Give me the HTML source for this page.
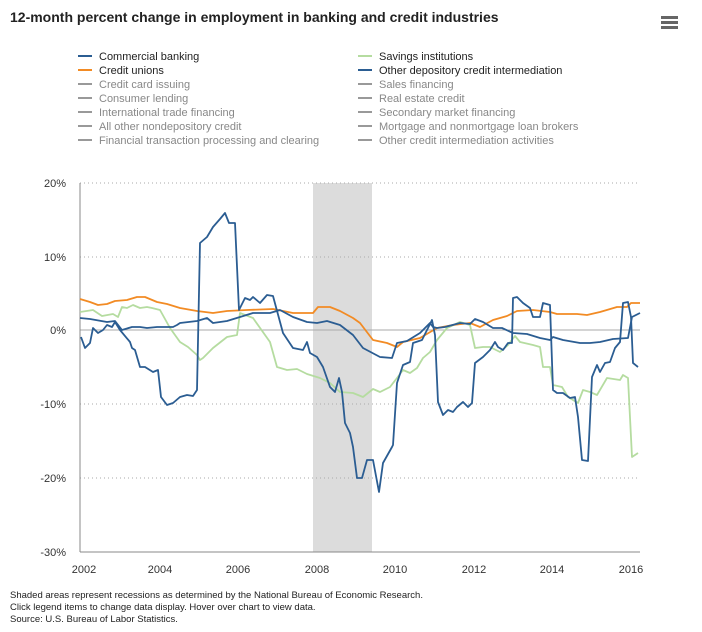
<!DOCTYPE html>
<html><head><meta charset="utf-8"><style>
body{margin:0;background:#fff;font-family:"Liberation Sans",sans-serif;}
.t{position:absolute;left:10px;top:9px;font-size:14px;font-weight:bold;color:#222;}
</style></head><body>
<div style="position:relative;width:702px;height:632px;overflow:hidden">
<div class="t">12-month percent change in employment in banking and credit industries</div>
<svg width="702" height="632" style="position:absolute;left:0;top:0" font-family="Liberation Sans, sans-serif">
<g fill="#666"><rect x="661" y="16" width="17" height="3"/><rect x="661" y="21" width="17" height="3"/><rect x="661" y="26" width="17" height="3"/></g>
<g font-size="11">
<g stroke-width="2"><line x1="78" y1="56" x2="92" y2="56" stroke="#2b5d92"/><line x1="78" y1="70" x2="92" y2="70" stroke="#f28b24"/><line x1="358" y1="56" x2="372" y2="56" stroke="#b5dca0"/><line x1="358" y1="70" x2="372" y2="70" stroke="#2b5d92"/>
<g stroke="#999"><line x1="78" y1="84" x2="92" y2="84"/><line x1="78" y1="98" x2="92" y2="98"/><line x1="78" y1="112" x2="92" y2="112"/><line x1="78" y1="126" x2="92" y2="126"/><line x1="78" y1="140" x2="92" y2="140"/><line x1="358" y1="84" x2="372" y2="84"/><line x1="358" y1="98" x2="372" y2="98"/><line x1="358" y1="112" x2="372" y2="112"/><line x1="358" y1="126" x2="372" y2="126"/><line x1="358" y1="140" x2="372" y2="140"/></g></g>
<g fill="#222"><text x="99" y="60">Commercial banking</text><text x="99" y="74">Credit unions</text><text x="379" y="60">Savings institutions</text><text x="379" y="74">Other depository credit intermediation</text></g>
<g fill="#888"><text x="99" y="88">Credit card issuing</text><text x="99" y="102">Consumer lending</text><text x="99" y="116">International trade financing</text><text x="99" y="130">All other nondepository credit</text><text x="99" y="144">Financial transaction processing and clearing</text>
<text x="379" y="88">Sales financing</text><text x="379" y="102">Real estate credit</text><text x="379" y="116">Secondary market financing</text><text x="379" y="130">Mortgage and nonmortgage loan brokers</text><text x="379" y="144">Other credit intermediation activities</text></g>
</g>
<rect x="313" y="183" width="59" height="369" fill="#dcdcdc"/>
<g stroke="#aaa" stroke-dasharray="1,3"><line x1="80" y1="183" x2="640" y2="183"/><line x1="80" y1="257" x2="640" y2="257"/><line x1="80" y1="404" x2="640" y2="404"/><line x1="80" y1="478" x2="640" y2="478"/></g>
<line x1="80" y1="330" x2="640" y2="330" stroke="#aaa"/>
<line x1="80" y1="183" x2="80" y2="552" stroke="#888"/>
<line x1="80" y1="552" x2="640" y2="552" stroke="#888"/>
<g font-size="11" fill="#333" text-anchor="end"><text x="66" y="187">20%</text><text x="66" y="261">10%</text><text x="66" y="334">0%</text><text x="66" y="408">-10%</text><text x="66" y="482">-20%</text><text x="66" y="556">-30%</text></g>
<g font-size="11" fill="#333" text-anchor="middle"><text x="84" y="573">2002</text><text x="160" y="573">2004</text><text x="238" y="573">2006</text><text x="317" y="573">2008</text><text x="395" y="573">2010</text><text x="474" y="573">2012</text><text x="552" y="573">2014</text><text x="631" y="573">2016</text></g>
<g fill="none" stroke-width="1.8" stroke-linejoin="round">
<polyline stroke="#b5dca0" points="80,312 93,310 102,316 113,314 118,317 122,307 127,308 133,305 140,308 147,307 152,308 160,310 170,328 180,342 188,347 197,355 200,360 203,358 213,348 227,337 237,335 240,313 253,318 270,342 277,367 287,370 297,369 307,374 320,378 330,383 340,392 353,393 363,397 373,389 380,392 390,387 397,378 403,370 410,373 417,368 423,358 430,352 437,340 447,328 460,322 470,325 475,348 483,347 490,347 500,352 508,345 515,336 520,342 533,345 540,347 543,367 550,367 553,385 562,387 568,397 578,403 583,390 590,392 597,395 607,378 620,380 623,375 628,378 632,457 638,453"/>
<polyline stroke="#f28b24" points="80,299 90,302 98,305 107,304 115,301 127,300 137,297 145,297 157,302 167,304 180,308 197,311 213,313 227,311 247,310 273,309 293,313 313,313 318,307 330,307 340,311 353,318 360,323 373,340 387,343 397,347 403,342 420,338 437,328 453,325 470,323 480,327 493,320 507,316 517,311 533,310 550,312 557,314 577,314 587,315 600,312 617,307 627,307 631,303 640,303"/>
<polyline stroke="#2b5d92" points="80,318 90,319 107,322 115,321 122,330 132,327 140,327 147,328 157,327 173,327 177,325 180,323 197,321 207,318 213,323 227,321 240,317 253,313 270,313 280,310 293,317 307,322 317,323 327,321 340,325 353,335 363,348 380,357 392,358 397,343 407,341 420,333 430,323 433,327 437,328 445,327 460,323 470,324 475,319 483,322 493,328 502,328 513,333 527,334 540,338 550,340 553,337 563,340 580,343 590,343 600,342 613,339 628,338 632,317 640,313"/>
<polyline stroke="#2b5d92" points="81,337 85,348 90,343 93,328 98,333 103,330 107,325 112,327 115,322 120,330 130,342 132,348 135,350 140,367 145,367 153,372 158,370 161,397 167,405 173,403 180,397 187,395 193,396 197,390 200,243 207,237 213,227 220,219 225,213 229,223 235,223 239,310 245,298 250,300 253,297 260,303 267,295 273,296 283,333 293,348 303,350 307,342 310,353 317,357 323,367 330,387 335,392 339,378 342,392 345,423 350,433 353,447 357,478 362,478 367,460 373,460 379,492 383,463 392,447 393,445 397,383 403,365 410,362 413,343 422,340 427,330 432,320 435,335 438,402 443,415 448,410 453,412 457,407 463,402 468,407 472,403 475,363 483,357 490,350 495,342 498,347 503,350 508,343 512,343 513,298 517,297 523,303 530,308 533,317 540,317 543,303 550,305 553,390 557,393 563,393 570,398 575,397 578,417 582,460 588,461 592,377 597,365 600,372 605,363 610,362 615,348 620,342 623,303 628,302 631,317 633,363 638,367"/>
</g>
<g font-size="9.5" fill="#222"><text x="10" y="598">Shaded areas represent recessions as determined by the National Bureau of Economic Research.</text><text x="10" y="610">Click legend items to change data display. Hover over chart to view data.</text><text x="10" y="622">Source: U.S. Bureau of Labor Statistics.</text></g>
</svg></div></body></html>
